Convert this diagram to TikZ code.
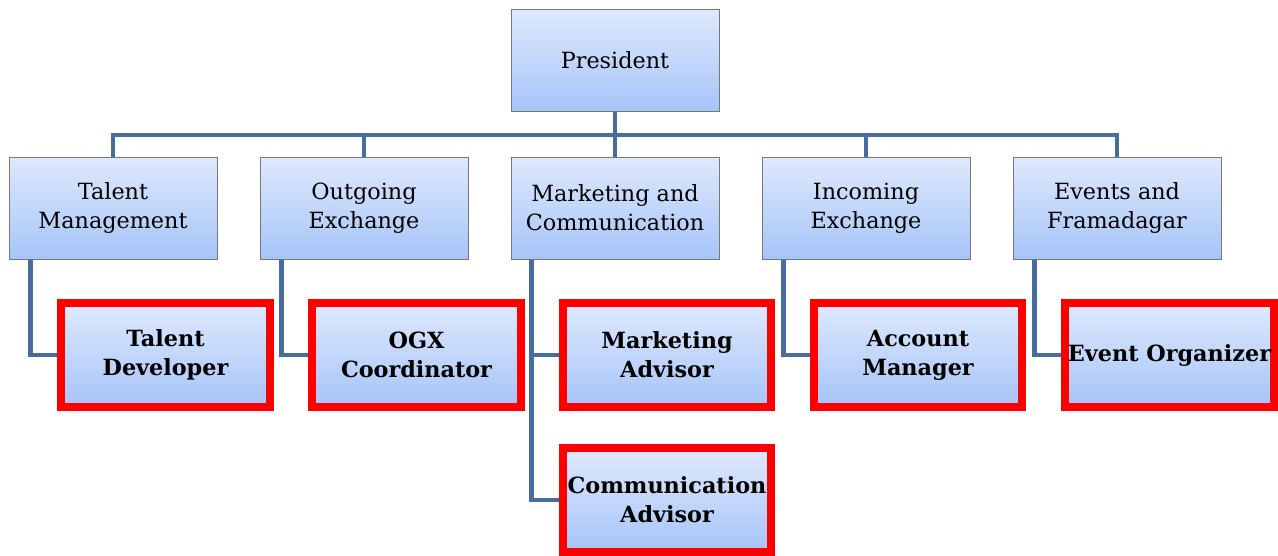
\documentclass[tikz,border=0pt]{standalone}
\usepackage{fontspec}
\setmainfont{DejaVu Serif}
\usepackage{tikz}
\usetikzlibrary{positioning,backgrounds}

\definecolor{boxtop}{RGB}{222,233,252}
\definecolor{boxbot}{RGB}{166,196,248}
\definecolor{boxline}{RGB}{120,120,120}
\definecolor{linkblue}{RGB}{70,108,160}

\begin{document}
\begin{tikzpicture}[x=0.02cm,y=-0.02cm,
  unit/.style={rectangle,draw=boxline,line width=0.5pt,top color=boxtop,bottom color=boxbot,
    minimum width=4.16cm,minimum height=2.04cm,inner sep=0pt,align=center,
    font=\fontsize{12.7}{16.5}\selectfont},
  role/.style={unit,draw=red,line width=0.16cm,minimum width=4.18cm,minimum height=2.08cm,
    font=\fontsize{12.7}{16.5}\selectfont\bfseries},
  link/.style={draw=linkblue,line width=0.085cm}]
\useasboundingbox (0,0) rectangle (1278,555);

% Top
\node[unit] (pres) at (615,60) {President};
\coordinate (bus) at (615,135);

% Departments
\node[unit] (tm) at (113,208) {Talent\\Management};
\node[unit] (ogx) at (364,208) {Outgoing\\Exchange};
\node[unit] (mc) at (615,208) {Marketing and\\Communication};
\node[unit] (icx) at (866,208) {Incoming\\Exchange};
\node[unit] (ef) at (1117,208) {Events and\\Framadagar};

% Roles
\node[role] (td) at (165.5,355) {Talent\\Developer};
\node[role] (oc) at (416.5,355) {OGX\\Coordinator};
\node[role] (ma) at (667,355) {Marketing\\Advisor};
\node[role] (ca) at (667,500) {Communication\\Advisor};
\node[role] (am) at (918,355) {Account\\Manager};
\node[role] (eo) at (1169.5,355) {Event Organizer};

\begin{scope}[on background layer]
\draw[link] (pres.south) -- ([yshift=-0.1cm]bus);
\draw[link] (tm.north) |- (bus);
\draw[link] (ogx.north) |- (bus);
\draw[link] (mc.north) -- (mc.north |- bus);
\draw[link] (icx.north) |- (bus);
\draw[link] (ef.north) |- (bus);

\draw[link] ([xshift=0.44cm]tm.south west) |- (td.west);
\draw[link] ([xshift=0.44cm]ogx.south west) |- (oc.west);
\draw[link] ([xshift=0.42cm]mc.south west) |- (ma.west);
\draw[link] ([xshift=0.42cm]mc.south west) |- (ca.west);
\draw[link] ([xshift=0.44cm]icx.south west) |- (am.west);
\draw[link] ([xshift=0.44cm]ef.south west) |- (eo.west);
\end{scope}
\end{tikzpicture}
\end{document}
